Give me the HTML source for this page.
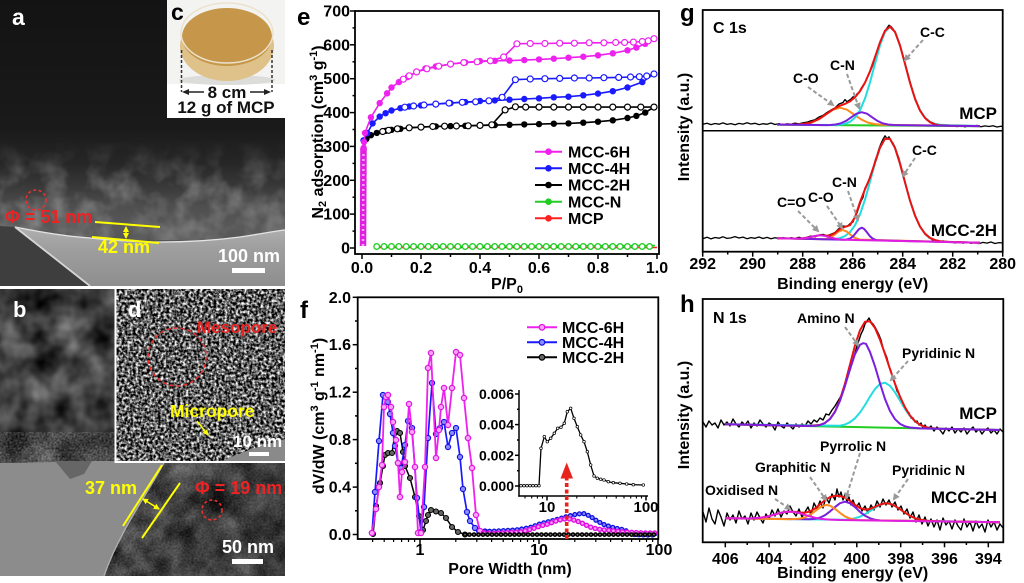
<!DOCTYPE html>
<html><head><meta charset="utf-8">
<style>
html,body{margin:0;padding:0;background:#fff;}
svg{display:block;font-family:"Liberation Sans",Arial,sans-serif;font-weight:bold;}
</style></head><body>
<svg width="1024" height="583" viewBox="0 0 1024 583" xmlns="http://www.w3.org/2000/svg">
<defs>
  <linearGradient id="gA" x1="0" y1="0" x2="0" y2="286" gradientUnits="userSpaceOnUse">
    <stop offset="0" stop-color="#131313"/><stop offset="0.45" stop-color="#1a1a1a"/>
    <stop offset="0.57" stop-color="#262626"/><stop offset="0.65" stop-color="#383838"/>
    <stop offset="0.72" stop-color="#4e4e4e"/><stop offset="0.8" stop-color="#5a5a5a"/>
    <stop offset="1" stop-color="#444"/>
  </linearGradient>
  <linearGradient id="gL" x1="0" y1="228" x2="0" y2="286" gradientUnits="userSpaceOnUse">
    <stop offset="0" stop-color="#b0b0b0"/><stop offset="0.3" stop-color="#a0a0a0"/><stop offset="1" stop-color="#8e8e8e"/>
  </linearGradient>
  <linearGradient id="gBandMask" x1="0" y1="140" x2="0" y2="240" gradientUnits="userSpaceOnUse">
    <stop offset="0" stop-color="#000"/><stop offset="0.5" stop-color="#fff"/><stop offset="1" stop-color="#fff"/>
  </linearGradient>
  <mask id="mBand"><rect x="0" y="140" width="285" height="100" fill="url(#gBandMask)"/></mask>
  <linearGradient id="gDark" x1="100" y1="0" x2="285" y2="0" gradientUnits="userSpaceOnUse">
    <stop offset="0" stop-color="#000" stop-opacity="0"/><stop offset="1" stop-color="#000" stop-opacity="0.2"/>
  </linearGradient>
  <filter id="fBlot" x="0" y="0" width="100%" height="100%" color-interpolation-filters="sRGB">
    <feTurbulence type="fractalNoise" baseFrequency="0.045" numOctaves="3" seed="4"/>
    <feColorMatrix type="matrix" values="0 0 0 0 0.62  0 0 0 0 0.62  0 0 0 0 0.62  2.0 0 0 0 -0.75"/>
  </filter>
  <filter id="fMot" x="0" y="0" width="100%" height="100%" color-interpolation-filters="sRGB">
    <feTurbulence type="fractalNoise" baseFrequency="0.035" numOctaves="3" seed="9"/>
    <feColorMatrix type="matrix" values="0.7 0 0 0 -0.1  0.7 0 0 0 -0.1  0.7 0 0 0 -0.1  0 0 0 0 1"/>
  </filter>
  <filter id="fSpk" x="0" y="0" width="100%" height="100%" color-interpolation-filters="sRGB">
    <feTurbulence type="fractalNoise" baseFrequency="0.36" numOctaves="2" seed="3"/>
    <feColorMatrix type="matrix" values="2.3 0 0 0 -0.78  2.3 0 0 0 -0.78  2.3 0 0 0 -0.78  0 0 0 0 1"/>
  </filter>
  <filter id="fFine" x="0" y="0" width="100%" height="100%" color-interpolation-filters="sRGB">
    <feTurbulence type="fractalNoise" baseFrequency="0.5" numOctaves="2" seed="12"/>
    <feColorMatrix type="matrix" values="1.2 0 0 0 -0.2  1.2 0 0 0 -0.2  1.2 0 0 0 -0.2  0 0 0 0 1"/>
  </filter>
  <clipPath id="cA"><rect x="0" y="0" width="285" height="286"/></clipPath>
  <clipPath id="cB"><rect x="0" y="289" width="285" height="287"/></clipPath>
  <clipPath id="cBR"><path d="M165,461 C150,490 120,530 104,576 L285,576 L285,461 Z"/></clipPath>

  <marker id="m6f" markerUnits="userSpaceOnUse" markerWidth="10" markerHeight="10" refX="5" refY="5"><circle cx="5" cy="5" r="3.2" fill="#ee22ee"/></marker>
  <marker id="m6o" markerUnits="userSpaceOnUse" markerWidth="10" markerHeight="10" refX="5" refY="5"><circle cx="5" cy="5" r="3" fill="#fff" stroke="#ee22ee" stroke-width="1.2"/></marker>
  <marker id="m4f" markerUnits="userSpaceOnUse" markerWidth="10" markerHeight="10" refX="5" refY="5"><circle cx="5" cy="5" r="3.2" fill="#1a1aff"/></marker>
  <marker id="m4o" markerUnits="userSpaceOnUse" markerWidth="10" markerHeight="10" refX="5" refY="5"><circle cx="5" cy="5" r="3" fill="#fff" stroke="#1a1aff" stroke-width="1.2"/></marker>
  <marker id="m2f" markerUnits="userSpaceOnUse" markerWidth="10" markerHeight="10" refX="5" refY="5"><circle cx="5" cy="5" r="3.2" fill="#000"/></marker>
  <marker id="m2o" markerUnits="userSpaceOnUse" markerWidth="10" markerHeight="10" refX="5" refY="5"><circle cx="5" cy="5" r="3" fill="#fff" stroke="#000" stroke-width="1.2"/></marker>
  <marker id="mf6" markerUnits="userSpaceOnUse" markerWidth="10" markerHeight="10" refX="5" refY="5"><circle cx="5" cy="5" r="2.7" fill="#f7a0f7" stroke="#e010e0" stroke-width="1.1"/></marker>
  <marker id="mf4" markerUnits="userSpaceOnUse" markerWidth="10" markerHeight="10" refX="5" refY="5"><circle cx="5" cy="5" r="2.6" fill="#8c8cff" stroke="#1010e0" stroke-width="1.1"/></marker>
  <marker id="mf2" markerUnits="userSpaceOnUse" markerWidth="10" markerHeight="10" refX="5" refY="5"><circle cx="5" cy="5" r="2.5" fill="#666" stroke="#000" stroke-width="1.1"/></marker>
  <marker id="mi" markerUnits="userSpaceOnUse" markerWidth="6" markerHeight="6" refX="3" refY="3"><circle cx="3" cy="3" r="1.3" fill="#fff" stroke="#000" stroke-width="0.7"/></marker>
  <marker id="ag" markerUnits="userSpaceOnUse" markerWidth="8" markerHeight="8" refX="5" refY="4" orient="auto"><path d="M0,0.5 L7,4 L0,7.5 Z" fill="#9a9a9a"/></marker>
  <marker id="ay" markerUnits="userSpaceOnUse" markerWidth="8" markerHeight="8" refX="5" refY="4" orient="auto-start-reverse"><path d="M0,1 L6,4 L0,7 Z" fill="#ffff00"/></marker>
  <marker id="ak" markerUnits="userSpaceOnUse" markerWidth="8" markerHeight="8" refX="5" refY="4" orient="auto-start-reverse"><path d="M0,1 L7,4 L0,7 Z" fill="#222"/></marker>
  <pattern id="gOpen" patternUnits="userSpaceOnUse" x="373" y="241.5" width="7.375" height="10">
    <circle cx="3.7" cy="5" r="2.8" fill="#fff" stroke="#22cc22" stroke-width="1.3"/>
  </pattern>
</defs>

<!-- ============ PANEL A ============ -->
<g clip-path="url(#cA)">
  <rect x="0" y="0" width="285" height="286" fill="url(#gA)"/>
  <rect x="0" y="140" width="285" height="100" filter="url(#fBlot)" mask="url(#mBand)" opacity="0.6"/>
  <path d="M0,226 L15,227 L90,286 L0,286 Z" fill="#3e3e3e"/>
  <path d="M15,227 C30,230 60,236 90,238 C120,241 140,242 160,242 C195,242 225,239 240,237 C260,234 275,231 285,230 L285,286 L90,286 Z" fill="url(#gL)"/>
  <path d="M15,227 C30,230 60,236 90,238 C120,241 140,242 160,242 C195,242 225,239 240,237 C260,234 275,231 285,230" fill="none" stroke="#e4e4e4" stroke-width="1.3"/>
  <path d="M15,227 L90,286" stroke="#d6d6d6" stroke-width="1.8"/>
</g>
<text x="12" y="25" font-size="23" fill="#fff">a</text>
<circle cx="36" cy="200" r="10" fill="none" stroke="#e83030" stroke-width="1.6" stroke-dasharray="3 2.5"/>
<text x="5" y="223" font-size="18" fill="#ee2222">Φ = 51 nm</text>
<line x1="95" y1="222" x2="160" y2="227" stroke="#ffff00" stroke-width="2"/>
<line x1="92" y1="237" x2="159" y2="243" stroke="#ffff00" stroke-width="2"/>
<line x1="126" y1="227" x2="126" y2="238" stroke="#ffff00" stroke-width="1.3" marker-start="url(#ay)" marker-end="url(#ay)"/>
<text x="98" y="253" font-size="18" fill="#ffff00">42 nm</text>
<text x="218" y="262" font-size="18" fill="#fff">100 nm</text>
<rect x="232" y="268" width="33" height="5" fill="#fff"/>

<!-- ============ PANEL C ============ -->
<rect x="167" y="0" width="118" height="118" fill="#fff"/>
<rect x="167" y="0" width="118" height="84" fill="#f3f3f1"/>
<ellipse cx="227" cy="80" rx="48" ry="5" fill="#dcdcda"/>
<ellipse cx="227" cy="46" rx="47" ry="35" fill="#dfc289"/>
<ellipse cx="227" cy="37" rx="45" ry="29" fill="#c6974a"/>
<ellipse cx="227" cy="33" rx="46" ry="30" fill="none" stroke="#ece2cc" stroke-width="1.5"/>
<line x1="181.5" y1="50" x2="181.5" y2="92" stroke="#333" stroke-width="1.5" stroke-dasharray="3 2"/>
<line x1="272" y1="50" x2="272" y2="92" stroke="#333" stroke-width="1.5" stroke-dasharray="3 2"/>
<line x1="184" y1="92" x2="204" y2="92" stroke="#222" stroke-width="1.6" marker-start="url(#ak)"/>
<line x1="250" y1="92" x2="269" y2="92" stroke="#222" stroke-width="1.6" marker-end="url(#ak)"/>
<text x="227" y="98" font-size="17" fill="#111" text-anchor="middle">8 cm</text>
<text x="226" y="113" font-size="17" fill="#111" text-anchor="middle">12 g of MCP</text>
<text x="171" y="20" font-size="23" fill="#000">c</text>

<!-- ============ PANEL B ============ -->
<g clip-path="url(#cB)">
  <rect x="0" y="289" width="285" height="287" filter="url(#fMot)"/>
  <rect x="0" y="432" width="120" height="32" filter="url(#fFine)" opacity="0.35"/>
  <path d="M0,463 L55,462 L92,461 L165,461 C150,490 120,530 104,576 L0,576 Z" fill="#8c8c8c"/>
  <path d="M55,461 L92,461 L84,474 L70,479 Z" fill="#666"/>
  <g clip-path="url(#cBR)">
    <rect x="100" y="460" width="185" height="117" filter="url(#fMot)"/>
    <rect x="100" y="460" width="185" height="117" filter="url(#fFine)" opacity="0.2"/>
    <rect x="100" y="460" width="185" height="117" fill="url(#gDark)"/>
  </g>
  <path d="M165,461 C150,490 120,530 104,576" fill="none" stroke="#b0b0b0" stroke-width="1.3"/>
</g>
<!-- PANEL D -->
<rect x="116" y="289" width="169" height="172" filter="url(#fSpk)"/>
<path d="M222,461 C242,452 262,445 285,439 L285,461 Z" fill="#8a8a8a"/>
<rect x="114.5" y="289" width="2" height="174" fill="#fff"/>
<rect x="114.5" y="461" width="171" height="2" fill="#fff"/>
<text x="13" y="317" font-size="22" fill="#fff">b</text>
<text x="128" y="317" font-size="22" fill="#fff">d</text>
<circle cx="177" cy="357" r="29" fill="none" stroke="#e83030" stroke-width="1.6" stroke-dasharray="4 3"/>
<text x="197" y="333" font-size="17" fill="#ee2222">Mesopore</text>
<text x="170" y="417" font-size="17.5" fill="#ffff00">Micropore</text>
<line x1="197" y1="421" x2="208" y2="435" stroke="#ffff00" stroke-width="1.5" marker-end="url(#ay)"/>
<text x="233" y="447" font-size="17" fill="#fff">10 nm</text>
<rect x="249" y="452" width="20" height="4" fill="#fff"/>
<line x1="123" y1="526" x2="162" y2="465" stroke="#ffff00" stroke-width="2"/>
<line x1="142" y1="538" x2="180" y2="483" stroke="#ffff00" stroke-width="2"/>
<line x1="143" y1="499" x2="159" y2="509" stroke="#ffff00" stroke-width="1.5" marker-start="url(#ay)" marker-end="url(#ay)"/>
<text x="85" y="494" font-size="18" fill="#ffff00">37 nm</text>
<text x="195" y="494" font-size="18" fill="#ee2222">Φ = 19 nm</text>
<circle cx="212" cy="510" r="10" fill="none" stroke="#e83030" stroke-width="1.6" stroke-dasharray="3 2.5"/>
<text x="222" y="553" font-size="18" fill="#fff">50 nm</text>
<rect x="232" y="559" width="31" height="5" fill="#fff"/>

<!-- ============ PANEL E ============ -->
<g font-size="16" fill="#000">
<text x="297" y="25" font-size="24">e</text>
<rect x="355" y="11" width="304" height="243" fill="none" stroke="#000" stroke-width="1.8"/>
<g stroke="#000" stroke-width="1.5">
  <line x1="350" y1="248" x2="355" y2="248"/><line x1="350" y1="214.1" x2="355" y2="214.1"/><line x1="350" y1="180.3" x2="355" y2="180.3"/><line x1="350" y1="146.4" x2="355" y2="146.4"/><line x1="350" y1="112.6" x2="355" y2="112.6"/><line x1="350" y1="78.7" x2="355" y2="78.7"/><line x1="350" y1="44.8" x2="355" y2="44.8"/><line x1="350" y1="11" x2="355" y2="11"/>
  <line x1="352.5" y1="231.1" x2="355" y2="231.1"/><line x1="352.5" y1="197.2" x2="355" y2="197.2"/><line x1="352.5" y1="163.4" x2="355" y2="163.4"/><line x1="352.5" y1="129.5" x2="355" y2="129.5"/><line x1="352.5" y1="95.6" x2="355" y2="95.6"/><line x1="352.5" y1="61.8" x2="355" y2="61.8"/><line x1="352.5" y1="27.9" x2="355" y2="27.9"/>
  <line x1="362" y1="254" x2="362" y2="259"/><line x1="421" y1="254" x2="421" y2="259"/><line x1="480" y1="254" x2="480" y2="259"/><line x1="539" y1="254" x2="539" y2="259"/><line x1="598" y1="254" x2="598" y2="259"/><line x1="657" y1="254" x2="657" y2="259"/>
  <line x1="391.5" y1="254" x2="391.5" y2="257"/><line x1="450.5" y1="254" x2="450.5" y2="257"/><line x1="509.5" y1="254" x2="509.5" y2="257"/><line x1="568.5" y1="254" x2="568.5" y2="257"/><line x1="627.5" y1="254" x2="627.5" y2="257"/>
</g>
<g text-anchor="end">
  <text x="350" y="253.5">0</text><text x="350" y="219.6">100</text><text x="350" y="185.8">200</text><text x="350" y="151.9">300</text><text x="350" y="118.1">400</text><text x="350" y="84.2">500</text><text x="350" y="50.3">600</text><text x="350" y="16.5">700</text>
</g>
<g text-anchor="middle">
  <text x="362" y="273">0.0</text><text x="421" y="273">0.2</text><text x="480" y="273">0.4</text><text x="539" y="273">0.6</text><text x="598" y="273">0.8</text><text x="657" y="273">1.0</text>
  <text x="507" y="289">P/P<tspan font-size="11" dy="4">0</tspan></text>
</g>
<text transform="translate(323,132) rotate(-90)" text-anchor="middle">N<tspan font-size="11" dy="3">2</tspan><tspan dy="-3"> adsorption (cm</tspan><tspan font-size="11" dy="-6">3</tspan><tspan dy="6"> g</tspan><tspan font-size="11" dy="-6">-1</tspan><tspan dy="6">)</tspan></text>
</g>
<!-- e series -->
<line x1="376" y1="247.5" x2="657" y2="247.5" stroke="#ff2020" stroke-width="1.5"/>
<line x1="376" y1="246.5" x2="655" y2="245.5" stroke="#22cc22" stroke-width="1.5"/>
<rect x="373" y="241.5" width="280.25" height="10" fill="url(#gOpen)"/>
<g fill="none" stroke-width="1.6">
<polyline stroke="#000" marker-start="url(#m2f)" marker-mid="url(#m2f)" marker-end="url(#m2f)" points="363.5,149.8 366.4,139 370.9,135.2 376.8,132.9 385.6,130.8 391.5,129.8 400.4,128.8 409.2,127.8 421,127.1 435.8,126.4 450.5,126.1 465.3,125.8 480,125.4 494.8,125.1 509.5,124.8 524.3,124.4 539,124.1 553.8,123.7 568.5,123.4 583.3,122.7 598,121.7 612.8,120.3 627.5,118 636.4,115.9 645.2,112.6 654,107.1"/>
<polyline stroke="#000" marker-start="url(#m2o)" marker-mid="url(#m2o)" marker-end="url(#m2o)" points="654,107.1 640.8,107.1 627.5,107.1 612.8,107.1 598,107.1 583.3,107.1 568.5,107.1 553.8,107.1 539,107.1 525.7,107.1 515.4,106.8 505.1,109.9 491.8,124.8 480,125.4 468.2,125.8 456.4,126 444.6,126.2 432.8,126.5 421,127.1 409.2,127.8 397.4,128.8 388.6,130.3 382.7,131.5"/>
<polyline stroke="#1a1aff" marker-start="url(#m4f)" marker-mid="url(#m4f)" marker-end="url(#m4f)" points="363.5,140.3 367.3,133.2 372.6,123.4 379.7,116.6 385.6,113.2 391.5,110.5 400.4,108.2 409.2,106.5 421,105.4 435.8,104.1 450.5,103.1 465.3,102.1 480,101 494.8,100.4 509.5,99.7 524.3,99 539,98.3 553.8,97.3 568.5,96.7 583.3,95.3 598,93.6 612.8,91.2 627.5,87.5 642.3,82.1 654,74"/>
<polyline stroke="#1a1aff" marker-start="url(#m4o)" marker-mid="url(#m4o)" marker-end="url(#m4o)" points="654,74 646.7,76 639.3,76.7 630.5,77 618.7,77.4 603.9,77.7 589.2,78 574.4,78 559.7,78.4 544.9,78.7 530.2,79 515.4,79.7 502.1,97.3 488.9,100.8 475.6,101.8 462.3,102.3 449,103.1 435.8,104.1 424,105 413.6,106 404.8,107.2"/>
<line x1="363" y1="246" x2="363.5" y2="148" stroke="#e020e0" stroke-width="6.5"/>
<line x1="363" y1="246" x2="363.5" y2="148" stroke="#f6a6f6" stroke-width="2.5" stroke-dasharray="2 3"/>
<polyline stroke="#ee22ee" marker-start="url(#m6f)" marker-mid="url(#m6f)" marker-end="url(#m6f)" points="363.6,148 364,142 365,133 370.9,117.3 379.7,103.1 387.1,93.3 391.5,87.5 398.9,82.1 407.7,77 416.6,71.9 425.4,68.5 435.8,66.5 450.5,64.1 465.3,62.4 480,61.1 494.8,60.8 509.5,60.6 524.3,60.1 539,59.4 553.8,58.7 568.5,57.7 583.3,56.7 598,55.3 612.8,53.3 627.5,50.3 636.4,47.6 645.2,43.8 654,38.7"/>
<polyline stroke="#ee22ee" marker-start="url(#m6o)" marker-mid="url(#m6o)" marker-end="url(#m6o)" points="654,38.7 648.2,40.8 642.3,41.5 633.4,42.1 624.6,42.5 615.7,42.5 603.9,42.8 589.2,42.8 574.4,43.2 559.7,43.2 544.9,43.5 530.2,43.5 516.9,43.8 503.6,57 490.3,60.8 477.1,61.8 463.8,62.6 450.5,64.1 438.7,66.2 426.9,68.8 416.6,71.9 409.2,75.8 403.3,79.2"/>
</g>
<!-- e legend -->
<g stroke-width="2">
<line x1="535" y1="151.7" x2="562" y2="151.7" stroke="#ee22ee"/><circle cx="548.5" cy="151.7" r="3.3" fill="#ee22ee"/>
<line x1="535" y1="168.3" x2="562" y2="168.3" stroke="#1a1aff"/><circle cx="548.5" cy="168.3" r="3.3" fill="#1a1aff"/>
<line x1="535" y1="185" x2="562" y2="185" stroke="#000"/><circle cx="548.5" cy="185" r="3.3" fill="#000"/>
<line x1="535" y1="201.7" x2="562" y2="201.7" stroke="#22cc22"/><circle cx="548.5" cy="201.7" r="3.3" fill="#22cc22"/>
<line x1="535" y1="218.3" x2="562" y2="218.3" stroke="#ff2020"/><circle cx="548.5" cy="218.3" r="3.3" fill="#ff2020"/>
</g>
<g font-size="16">
<text x="568" y="157.5">MCC-6H</text><text x="568" y="174">MCC-4H</text><text x="568" y="190.7">MCC-2H</text><text x="568" y="207.3">MCC-N</text><text x="568" y="224">MCP</text>
</g>

<!-- ============ PANEL F ============ -->
<g font-size="16" fill="#000">
<text x="300" y="318" font-size="24">f</text>
<rect x="357.7" y="297.3" width="300.6" height="241.7" fill="none" stroke="#000" stroke-width="1.8"/>
<g stroke="#000" stroke-width="1.5">
  <line x1="352.7" y1="534.5" x2="357.7" y2="534.5"/><line x1="352.7" y1="487.1" x2="357.7" y2="487.1"/><line x1="352.7" y1="439.6" x2="357.7" y2="439.6"/><line x1="352.7" y1="392.2" x2="357.7" y2="392.2"/><line x1="352.7" y1="344.7" x2="357.7" y2="344.7"/><line x1="352.7" y1="297.3" x2="357.7" y2="297.3"/>
  <line x1="355" y1="510.8" x2="357.7" y2="510.8"/><line x1="355" y1="463.3" x2="357.7" y2="463.3"/><line x1="355" y1="415.9" x2="357.7" y2="415.9"/><line x1="355" y1="368.5" x2="357.7" y2="368.5"/><line x1="355" y1="321" x2="357.7" y2="321"/>
  <line x1="420" y1="539" x2="420" y2="544"/><line x1="539" y1="539" x2="539" y2="544"/><line x1="658" y1="539" x2="658" y2="544"/>
  <g stroke-width="1.2">
  <line x1="372.6" y1="539" x2="372.6" y2="542"/><line x1="384.2" y1="539" x2="384.2" y2="542"/><line x1="393.6" y1="539" x2="393.6" y2="542"/><line x1="401.6" y1="539" x2="401.6" y2="542"/><line x1="408.5" y1="539" x2="408.5" y2="542"/><line x1="414.6" y1="539" x2="414.6" y2="542"/>
  <line x1="455.8" y1="539" x2="455.8" y2="542"/><line x1="476.8" y1="539" x2="476.8" y2="542"/><line x1="491.6" y1="539" x2="491.6" y2="542"/><line x1="503.2" y1="539" x2="503.2" y2="542"/><line x1="512.6" y1="539" x2="512.6" y2="542"/><line x1="520.6" y1="539" x2="520.6" y2="542"/><line x1="527.5" y1="539" x2="527.5" y2="542"/><line x1="533.6" y1="539" x2="533.6" y2="542"/>
  <line x1="574.8" y1="539" x2="574.8" y2="542"/><line x1="595.8" y1="539" x2="595.8" y2="542"/><line x1="610.6" y1="539" x2="610.6" y2="542"/><line x1="622.2" y1="539" x2="622.2" y2="542"/><line x1="631.6" y1="539" x2="631.6" y2="542"/><line x1="639.6" y1="539" x2="639.6" y2="542"/><line x1="646.5" y1="539" x2="646.5" y2="542"/><line x1="652.6" y1="539" x2="652.6" y2="542"/>
  </g>
</g>
<g text-anchor="end">
  <text x="351" y="540">0.0</text><text x="351" y="492.6">0.4</text><text x="351" y="445.1">0.8</text><text x="351" y="397.7">1.2</text><text x="351" y="350.2">1.6</text><text x="351" y="302.8">2.0</text>
</g>
<g text-anchor="middle">
  <text x="420" y="555">1</text><text x="539" y="555">10</text><text x="659" y="555">100</text>
  <text x="510" y="574">Pore Width (nm)</text>
</g>
<text transform="translate(324,416) rotate(-90)" text-anchor="middle">dV/dW (cm<tspan font-size="11" dy="-6">3</tspan><tspan dy="6"> g</tspan><tspan font-size="11" dy="-6">-1</tspan><tspan dy="6"> nm</tspan><tspan font-size="11" dy="-6">-1</tspan><tspan dy="6">)</tspan></text>
</g>
<!-- f series -->
<g fill="none">
<polyline stroke="#000" stroke-width="1.5" marker-start="url(#mf2)" marker-mid="url(#mf2)" marker-end="url(#mf2)" points="373,534 376,506 380,483 383,466 385,455 388,453 392,453 395,433 397,431 400,433 403,452 405,466 410,478 415,497 419,516 423,530 426,521 428,515 431,510 436,511.5 441,513 446,518 452,527 458,532 465,534.5"/>
<polyline stroke="#1a1aff" stroke-width="1.7" marker-start="url(#mf4)" marker-mid="url(#mf4)" marker-end="url(#mf4)" points="372,533 375,492 379,441 383,395 386,397 388,402 390,414 393,433 395,446 398,463 401,468 405,445 408,421 412,428 417,498 421,532 424,507 428,438 432,383 436,434 440,428 444,422 448,447 452,433 456,428 460,457 463,489 467,512 470,521 475,528 479,531 485,531.5"/>
<path d="M485,531.5 L495,531 L505,530.5 L515,530 L525,528.5 L532,527 L538,524.5 L545,522.5 L555,520 L565,517 L575,514.5 L583,513.3 L590,516 L597,521 L605,525 L615,528 L625,530 L632,534.5 L645,535 L657,535" stroke="#1a1aff" stroke-width="1.5"/>
<path d="M485,531.5 L495,531 L505,530.5 L515,530 L525,528.5 L532,527 L538,524.5 L545,522.5 L555,520 L565,517 L575,514.5 L583,513.3 L590,516 L597,521 L605,525 L615,528 L625,530 L632,534.5 L645,535 L657,535" stroke="#1010e0" stroke-width="5.2" stroke-linecap="round" stroke-dasharray="0 4.6"/>
<path d="M485,531.5 L495,531 L505,530.5 L515,530 L525,528.5 L532,527 L538,524.5 L545,522.5 L555,520 L565,517 L575,514.5 L583,513.3 L590,516 L597,521 L605,525 L615,528 L625,530 L632,534.5 L645,535 L657,535" stroke="#8c8cff" stroke-width="2.6" stroke-linecap="round" stroke-dasharray="0 4.6"/>
<polyline stroke="#ee22ee" stroke-width="1.8" marker-start="url(#mf6)" marker-mid="url(#mf6)" marker-end="url(#mf6)" points="372,533 376,509 379,487 382,465 384,407 386,397 388,395 391,407 393,422 396,440 398,463 400,497 402,472 405,462 409,404 412,432 415,467 418,533 421,533 425,467 428,368 431,353 436,458 439,430 441,407 444,388 448,425 452,388 456,352 460,355 464,398 468,438 472,468 476,515 480,531 484,533"/>
<path d="M484,533 L490,533.5 L500,533 L510,532.5 L520,532 L528,530 L535,528 L540,526 L548,524 L556,521 L563,519 L570,519 L577,521 L584,524 L590,527 L597,529 L605,530 L615,531 L625,532 L635,532.5 L645,533 L657,533" stroke="#ee22ee" stroke-width="1.5"/>
<path d="M484,533 L490,533.5 L500,533 L510,532.5 L520,532 L528,530 L535,528 L540,526 L548,524 L556,521 L563,519 L570,519 L577,521 L584,524 L590,527 L597,529 L605,530 L615,531 L625,532 L635,532.5 L645,533 L657,533" stroke="#e010e0" stroke-width="5.4" stroke-linecap="round" stroke-dasharray="0 4.6"/>
<path d="M484,533 L490,533.5 L500,533 L510,532.5 L520,532 L528,530 L535,528 L540,526 L548,524 L556,521 L563,519 L570,519 L577,521 L584,524 L590,527 L597,529 L605,530 L615,531 L625,532 L635,532.5 L645,533 L657,533" stroke="#f7a0f7" stroke-width="2.6" stroke-linecap="round" stroke-dasharray="0 4.6"/>
<path d="M465,534.6 L657,534.6" stroke="#000" stroke-width="4.8" stroke-linecap="round" stroke-dasharray="0 4.5"/>
<path d="M465,534.6 L657,534.6" stroke="#777" stroke-width="1.8" stroke-linecap="round" stroke-dasharray="0 4.5"/>
</g>
<!-- f legend -->
<g stroke-width="2">
<line x1="527" y1="327.3" x2="557" y2="327.3" stroke="#ee22ee"/><circle cx="542" cy="327.3" r="2.8" fill="#f7a0f7" stroke="#e010e0" stroke-width="1.2"/>
<line x1="527" y1="342.3" x2="557" y2="342.3" stroke="#1a1aff"/><circle cx="542" cy="342.3" r="2.8" fill="#8c8cff" stroke="#1010e0" stroke-width="1.2"/>
<line x1="527" y1="357.3" x2="557" y2="357.3" stroke="#000"/><circle cx="542" cy="357.3" r="2.8" fill="#666" stroke="#000" stroke-width="1.2"/>
</g>
<g font-size="16"><text x="562" y="333">MCC-6H</text><text x="562" y="348">MCC-4H</text><text x="562" y="363">MCC-2H</text></g>
<!-- inset -->
<g stroke="#000" stroke-width="1.5">
  <line x1="519" y1="390" x2="519" y2="496.7"/><line x1="518.3" y1="496" x2="648" y2="496"/>
  <line x1="515" y1="486" x2="519" y2="486"/><line x1="515" y1="455.3" x2="519" y2="455.3"/><line x1="515" y1="424.6" x2="519" y2="424.6"/><line x1="515" y1="394" x2="519" y2="394"/>
  <line x1="517" y1="470.7" x2="519" y2="470.7"/><line x1="517" y1="440" x2="519" y2="440"/><line x1="517" y1="409.3" x2="519" y2="409.3"/>
  <line x1="547" y1="496" x2="547" y2="500.5"/><line x1="646" y1="496" x2="646" y2="500.5"/>
  <g stroke-width="1.1">
  <line x1="525" y1="496" x2="525" y2="498.5"/><line x1="531.7" y1="496" x2="531.7" y2="498.5"/><line x1="537.4" y1="496" x2="537.4" y2="498.5"/><line x1="542.5" y1="496" x2="542.5" y2="498.5"/>
  <line x1="576.8" y1="496" x2="576.8" y2="498.5"/><line x1="594.2" y1="496" x2="594.2" y2="498.5"/><line x1="606.6" y1="496" x2="606.6" y2="498.5"/><line x1="616.2" y1="496" x2="616.2" y2="498.5"/><line x1="624" y1="496" x2="624" y2="498.5"/><line x1="630.7" y1="496" x2="630.7" y2="498.5"/><line x1="636.4" y1="496" x2="636.4" y2="498.5"/><line x1="641.5" y1="496" x2="641.5" y2="498.5"/>
  </g>
</g>
<g font-size="14" text-anchor="end">
  <text x="514" y="491">0.000</text><text x="514" y="460.3">0.002</text><text x="514" y="429.6">0.004</text><text x="514" y="399">0.006</text>
</g>
<g font-size="15" text-anchor="middle"><text x="547" y="512">10</text><text x="646" y="512">100</text></g>
<polyline fill="none" stroke="#000" stroke-width="1.3" marker-start="url(#mi)" marker-mid="url(#mi)" marker-end="url(#mi)" points="521,485.7 524,485.7 527,485.7 530,485.7 533,485.7 536,485.7 539,485.7 541,448.3 544.3,436.7 547.3,441.7 550.7,438.3 554.3,433.3 557.7,428.3 561,427.3 564.3,423.3 567.3,411.7 570.7,408.3 574,418.3 577.3,426.7 580.7,435 584,441.7 587.3,451.7 590.7,465 594,476 597.3,478.3 600.7,479.3 604,480 608.3,481.7 613.3,482.7 620,483.3 626.7,484 633.3,484.7 643.3,485"/>
<line x1="566.7" y1="539" x2="566.7" y2="478" stroke="#e8231b" stroke-width="3.6" stroke-dasharray="4 2.5"/>
<polygon points="560.5,478.5 573,478.5 566.7,462.5" fill="#e8231b"/>

<!-- ============ PANEL G ============ -->
<g font-size="16" fill="#000">
<text x="680" y="21" font-size="24">g</text>
<rect x="702.7" y="10" width="300" height="241.7" fill="none" stroke="#000" stroke-width="1.8"/>
<line x1="702.7" y1="130.7" x2="1002.7" y2="130.7" stroke="#000" stroke-width="1.5"/>
<g stroke="#000" stroke-width="1.5">
  <line x1="702.7" y1="251.7" x2="702.7" y2="256.7"/><line x1="752.7" y1="251.7" x2="752.7" y2="256.7"/><line x1="802.7" y1="251.7" x2="802.7" y2="256.7"/><line x1="852.7" y1="251.7" x2="852.7" y2="256.7"/><line x1="902.7" y1="251.7" x2="902.7" y2="256.7"/><line x1="952.7" y1="251.7" x2="952.7" y2="256.7"/><line x1="1002.7" y1="251.7" x2="1002.7" y2="256.7"/>
  <line x1="727.7" y1="251.7" x2="727.7" y2="254.5"/><line x1="777.7" y1="251.7" x2="777.7" y2="254.5"/><line x1="827.7" y1="251.7" x2="827.7" y2="254.5"/><line x1="877.7" y1="251.7" x2="877.7" y2="254.5"/><line x1="927.7" y1="251.7" x2="927.7" y2="254.5"/><line x1="977.7" y1="251.7" x2="977.7" y2="254.5"/>
</g>
<g text-anchor="middle">
  <text x="702.7" y="269">292</text><text x="752.7" y="269">290</text><text x="802.7" y="269">288</text><text x="852.7" y="269">286</text><text x="902.7" y="269">284</text><text x="952.7" y="269">282</text><text x="1002.7" y="269">280</text>
  <text x="852.7" y="289">Binding energy (eV)</text>
</g>
<text transform="translate(689,127) rotate(-90)" text-anchor="middle">Intensity (a.u.)</text>
<text x="713" y="33">C 1s</text>
<text x="997" y="119" text-anchor="end" font-size="17">MCP</text>
<text x="997" y="236" text-anchor="end" font-size="17">MCC-2H</text>
</g>
<g fill="none" stroke-width="2" stroke-linejoin="round">
<polyline stroke="#000" stroke-width="1.3" points="703,124.3 707,123.2 711,124.6 715,123.5 719,124.2 723,122.9 727,124.4 731,123.6 735,124.8 739,123.4 743,124.1 747,122.8 751,124 755,123.3 759,124.6 763,123.7 767,124.3 771,123 775,124.5 779,123.6 783,124.7 787,123.8 791,124.2 795,123.1 799,123.9 803,122.8 807,122.2 811,120.8 815,119.7 819,117 823,115.4 827,112.4 831,110 835,107.9 839,104 843,102.5 845,99.5 847,101.8 851,99 853,96.8 855,97.5 857,93.8 859,92.5 861,88.6 863,85.3 865,82.5 867,77.8 869,74 871,69.5 873,64.8 875,57.5 877,51.8 879,45 881,40.2 883,35.5 885,31 887,28 889,25.2 891,26.5 893,28.8 895,32.5 897,36.8 899,42.5 901,49 903,55.5 905,63 907,70.4 909,77.5 911,85 913,91.5 915,98 917,103.6 919,108.2 921,112 923,115.6 925,117.8 927,120.2 929,121.4 931,123 933,123.6 935,124.9 937,124.2 941,125.6 945,124.8 949,126.2 953,125.3 957,126.6 961,125.5 965,126.9 969,125.8 973,126.4 977,125.4 981,126.8 985,125.9 989,126.5 993,125.7 997,127 1001,126.2 1003,126.6"/>
<polyline stroke="#22cc22" points="777,124.7 980,126.2"/>
<polyline stroke="#ff8a1c" points="777,124.5 791,124.6 798,124.5 805,124 812,122.4 819,119.2 826,114.4 833,109.7 840,107.7 847,109.7 854,114.5 861,119.3 868,122.6 875,124.1 882,124.7 889,124.9 980,126"/>
<polyline stroke="#22dddd" points="777,124.5 830,125 840,124.7 845,123.8 850,121.8 855,117.6 860,110.2 865,98.5 870,82.4 875,63.6 880,45.3 885,31.8 890,26.8 895,31.8 900,45.3 905,63.6 910,82.4 915,98.5 920,110.2 925,117.6 930,121.8 935,123.8 940,124.7 950,125.3 980,126"/>
<polyline stroke="#ee1111" points="777,124.5 790,124.6 800,124.4 810,122.9 820,118.5 825,114.9 830,111.4 835,108.2 840,105.7 845,103.9 850,101.4 855,97.2 860,91.2 865,82.6 870,71.3 875,57.1 880,42.3 885,30.7 890,26.6 895,31.9 900,45.5 905,63.8 910,82.7 915,98.8 920,110.6 925,118 930,122.2 935,124.3 940,125.3 950,125.7 980,126.1"/>
<polyline stroke="#7a1fe0" points="777,124.5 825,125.1 830.2,125 835.5,124.5 840.7,123.4 846,120.9 851.2,117.3 856.5,113.7 861.7,112.2 867,113.7 872.2,117.3 877.5,120.9 882.7,123.4 888,124.5 893.2,125 898.5,125.1 980,126.1"/>

<polyline stroke="#000" stroke-width="1.3" points="703,238.6 707,237.2 711,238.9 715,237.5 719,238.2 723,236.8 727,238.4 731,237.9 735,236.6 739,238 743,237.1 747,238.7 751,237.6 755,238.3 759,237 763,238.5 767,237.4 771,238.8 775,237.8 779,238.6 783,237.5 787,238.9 791,237.7 795,238.4 799,237.3 803,238.5 807,237.2 811,236 815,236.9 819,235 823,234.4 827,235.8 831,234.2 835,232.5 839,228.4 843,226 847,226.5 851,222.8 853,222 855,216.5 857,213 859,207 861,201.2 863,197.5 865,188 867,185.2 869,179.5 871,173.8 873,168.5 875,161 877,155.2 879,148.5 881,143.5 883,139.2 885,135.8 887,138.5 889,136.8 891,140.5 893,143 895,147.2 897,152.8 899,158.5 901,166 903,173.5 905,181.5 907,189.5 909,196.8 911,203.5 913,209.5 915,215 917,219.8 919,224.5 921,228.4 923,231 925,234.2 927,236 929,237.8 931,238.6 933,240.5 935,240 939,241.8 943,240.9 947,242.4 951,241.5 955,243 959,241.7 963,243.2 967,242 971,243.4 975,242.2 979,243.6 983,242.4 987,243.1 991,242 995,243.5 999,242.6 1003,243"/>
<polyline stroke="#22dddd" points="777,238.3 830,239.3 835,239 840,238.1 845,236.1 850,232.1 855,225.2 860,214.4 865,199.6 870,181.6 875,163.1 880,147.6 885,138.8 890,138.9 895,147.9 900,163.7 905,182.4 910,200.6 915,215.6 920,226.6 925,233.7 930,237.9 935,240.1 940,241.2 950,242 980,242.7"/>
<polyline stroke="#ff8a1c" points="777,238.3 825,239.3 830,237.6 834,235.1 838,231.8 842.7,230 847,231.7 851,235.1 855,237.9 860,239.6 980,242.7"/>
<polyline stroke="#7a1fe0" points="777,238.3 845,239.8 850,238.6 853,236.5 856,232.7 859,229.1 861.7,227.7 864,228.8 867,232.4 870,236.3 873,238.8 877,240.3 980,242.7"/>
<polyline stroke="#ee1111" points="777,238.3 800,238.6 810,237.2 820,235.2 825,235.6 830,235.6 835,233 840,228.9 845,226.8 850,225.2 855,217.2 860,202.1 865,189.2 870,177.6 875,162.4 880,147.6 885,138.8 890,138.9 895,147.9 900,163.7 905,182.4 910,200.6 915,215.6 920,226.6 925,233.7 930,237.9 935,240.1 940,241.2 950,242 960,242.3 980,242.7"/>
<polyline stroke="#e01ee0" points="777,238.3 800,238.6 808,237.7 814,236.1 820,235.2 826,236.2 832,237.9 840,239.6 860,240.1 980,242.7"/>
</g>
<g stroke="#9a9a9a" stroke-width="2" stroke-dasharray="4 2.5" fill="none">
<line x1="923" y1="40" x2="905" y2="60" marker-end="url(#ag)"/>
<line x1="847" y1="74" x2="859" y2="108" marker-end="url(#ag)"/>
<line x1="808" y1="87" x2="833" y2="105" marker-end="url(#ag)"/>
<line x1="915" y1="158" x2="903" y2="176" marker-end="url(#ag)"/>
<line x1="848" y1="191" x2="858" y2="220" marker-end="url(#ag)"/>
<line x1="827" y1="206" x2="842" y2="228" marker-end="url(#ag)"/>
<line x1="798" y1="211" x2="818" y2="231" marker-end="url(#ag)"/>
</g>
<g font-size="14">
<text x="920" y="37">C-C</text><text x="830" y="70">C-N</text><text x="793" y="83">C-O</text>
<text x="912" y="155">C-C</text><text x="832" y="187">C-N</text><text x="808" y="202">C-O</text><text x="777" y="207">C=O</text>
</g>

<!-- ============ PANEL H ============ -->
<g font-size="16" fill="#000">
<text x="680" y="312" font-size="24">h</text>
<rect x="702.7" y="299" width="300.6" height="243.3" fill="none" stroke="#000" stroke-width="1.8"/>
<g stroke="#000" stroke-width="1.5">
  <line x1="725.3" y1="542.3" x2="725.3" y2="547.3"/><line x1="769.1" y1="542.3" x2="769.1" y2="547.3"/><line x1="813" y1="542.3" x2="813" y2="547.3"/><line x1="856.8" y1="542.3" x2="856.8" y2="547.3"/><line x1="900.7" y1="542.3" x2="900.7" y2="547.3"/><line x1="944.5" y1="542.3" x2="944.5" y2="547.3"/><line x1="988.3" y1="542.3" x2="988.3" y2="547.3"/>
  <line x1="747.2" y1="542.3" x2="747.2" y2="545"/><line x1="791" y1="542.3" x2="791" y2="545"/><line x1="834.9" y1="542.3" x2="834.9" y2="545"/><line x1="878.8" y1="542.3" x2="878.8" y2="545"/><line x1="922.6" y1="542.3" x2="922.6" y2="545"/><line x1="966.4" y1="542.3" x2="966.4" y2="545"/>
</g>
<g text-anchor="middle">
  <text x="725.3" y="564">406</text><text x="769.1" y="564">404</text><text x="813" y="564">402</text><text x="856.8" y="564">400</text><text x="900.7" y="564">398</text><text x="944.5" y="564">396</text><text x="988.3" y="564">394</text>
  <text x="852.7" y="578">Binding energy (eV)</text>
</g>
<text transform="translate(689,415) rotate(-90)" text-anchor="middle">Intensity (a.u.)</text>
<text x="713" y="323">N 1s</text>
<text x="997" y="419" text-anchor="end" font-size="17">MCP</text>
<text x="997" y="503" text-anchor="end" font-size="17">MCC-2H</text>
</g>
<g fill="none" stroke-width="2" stroke-linejoin="round">
<polyline stroke="#000" stroke-width="1.4" points="703,422 706,427 709,421 712,425 715,423 718,428 721,420 724,425 727,422 730,426 733,419 736,424 739,427 742,422 745,425 748,421 751,428 754,423 757,426 760,420 763,424 766,427 769,423 772,425 775,430 778,422 781,426 784,428 787,423 790,426 793,429 796,424 799,427 802,424 805,426 808,421 811,424 814,420 817,422 820,418 823,420 826,414 829,415 832,410 835,406 838,401 841,396 844,387 847,379 850,370 853,360 855,353 857,346 859,340 861,334 863,330 865,324 867,321 869,318 871,322 873,324 875,327 877,331 879,335 881,340 883,348 885,353 887,358 889,366 891,371 893,379 895,384 897,391 899,394 901,400 903,404 905,407 907,412 909,413 911,418 913,418 915,422 917,421 919,425 921,423 923,428 925,425 928,429 931,426 934,431 937,427 940,430 943,434 946,428 949,431 952,427 955,433 958,429 961,432 964,428 967,434 970,430 973,427 976,432 979,429 982,434 985,430 988,428 991,433 994,430 997,434 1000,429 1003,432"/>
<polyline stroke="#22cc22" points="725,424.3 1000,430"/>
<polyline stroke="#22dddd" points="725,424.3 840,425.7 845,424.5 850,422.2 855,418.3 860,412.5 865,405 870,396.6 875,389 880,383.9 885,382.7 890,385.8 895,392.3 900,400.6 905,409 910,416 915,421.2 920,424.8 925,426.9 930,428.1 940,428.7 1000,430"/>
<polyline stroke="#ee1111" points="725,424.3 800,425.9 810,425.9 820,424.9 825,422.9 830,418.9 835,411.6 840,399.6 845,383.6 850,364.5 855,345.4 860,330.2 865,321.7 870,321.3 875,328 880,339.7 885,354.1 890,369.2 895,383.7 900,396.6 905,407.3 910,415.5 915,421.2 920,424.8 925,426.8 930,428.1 940,428.7 1000,430"/>
<polyline stroke="#7a1fe0" points="725,424.3 810,426 815,425.8 820,425 825,423 830,419 835,411.9 840,400.8 845,385.9 850,369.2 855,354.1 860,344.8 863,343.2 866,343.8 870,352 875,366.4 880,383.3 885,399 890,411.1 895,419.2 900,423.9 905,426.3 910,427.5 920,428.4 1000,430"/>

<polyline stroke="#000" stroke-width="1.4" points="703,512 706,522 709,508 712,519 715,524 718,510 721,517 724,526 727,513 730,520 733,515 736,523 739,511 742,519 745,516 748,524 751,513 754,520 757,512 760,518 763,523 766,514 769,519 772,510 775,516 778,509 781,517 784,511 787,514 790,506 793,512 796,516 799,509 802,517 805,512 808,507 811,515 814,503 817,509 820,501 823,508 826,497 829,503 832,494 835,500 837,489 839,497 841,492 843,500 845,494 847,502 849,497 851,505 853,500 856,508 859,503 862,511 865,506 868,513 871,505 874,510 877,501 880,507 883,499 886,505 889,500 892,507 895,502 898,510 901,506 904,514 907,509 910,518 913,512 916,522 919,515 922,524 925,517 928,526 931,519 934,527 937,520 940,530 943,518 946,525 949,521 952,529 955,520 958,526 961,530 964,519 967,527 970,522 973,531 976,521 979,528 982,524 985,532 988,520 991,527 994,522 997,530 1000,524 1003,528"/>
<polyline stroke="#22dddd" points="725,518.3 845,519.7 850,519.2 855,518.2 860,516.7 865,514.2 870,511 875,507.8 880,504.9 885,503.3 890,503.7 895,505.9 900,509.2 905,512.7 910,515.8 915,518.2 920,519.6 925,520.5 930,521 1000,522.3"/>
<polyline stroke="#7a1fe0" points="725,518.3 810,519.2 815,518.8 820,517.6 825,515.2 830,511.4 835,507.1 840,503.2 845,501.7 850,503.3 855,507.1 860,511.9 865,515.7 870,518.3 875,519.7 880,520.4 1000,522.3"/>
<polyline stroke="#ff8a1c" points="725,518.3 790,519.2 800,518.6 805,517.4 810,514.8 815,511.2 820,507.4 825,505.2 827,505 830,505.7 835,508.8 840,512.9 845,516.4 850,518.5 855,519.7 860,520.1 1000,522.3"/>
<polyline stroke="#ee1111" points="725,518.3 750,518.5 755,518.2 760,517.8 765,517 770,515.9 775,514.4 780,513 785,512 790,511.6 795,511.9 800,512.5 805,512.7 810,511.4 815,508.5 820,504.3 825,500.1 830,497.1 835,495.8 840,496.1 845,497.7 850,500.8 855,504.9 860,508.1 865,509.6 870,508.9 875,506.9 880,504.6 885,503.3 890,503.7 895,505.9 900,509.2 905,512.7 910,515.8 915,518.2 920,519.6 925,520.5 930,521 940,521.4 1000,522.3"/>
<polyline stroke="#e01ee0" points="725,518.3 750,518.5 760,517.8 765,517.1 770,515.9 775,514.5 780,513 785,511.9 790,511.65 795,512.1 800,513.3 805,514.9 810,516.4 815,517.7 820,518.7 825,519.3 830,519.6 840,520 1000,522.3"/>
</g>
<g stroke="#9a9a9a" stroke-width="2" stroke-dasharray="4 2.5" fill="none">
<line x1="845" y1="327" x2="858" y2="345" marker-end="url(#ag)"/>
<line x1="908" y1="361" x2="891" y2="380" marker-end="url(#ag)"/>
<line x1="860" y1="453" x2="846" y2="498" marker-end="url(#ag)"/>
<line x1="810" y1="477" x2="826" y2="500" marker-end="url(#ag)"/>
<line x1="908" y1="479" x2="894" y2="499" marker-end="url(#ag)"/>
<line x1="775" y1="499" x2="790" y2="509" marker-end="url(#ag)"/>
</g>
<g font-size="14">
<text x="797" y="323">Amino N</text>
<text x="902" y="358">Pyridinic N</text>
<text x="820" y="451">Pyrrolic N</text>
<text x="755" y="472">Graphitic N</text>
<text x="892" y="475">Pyridinic N</text>
<text x="705" y="495">Oxidised N</text>
</g>
</svg>
</body></html>
